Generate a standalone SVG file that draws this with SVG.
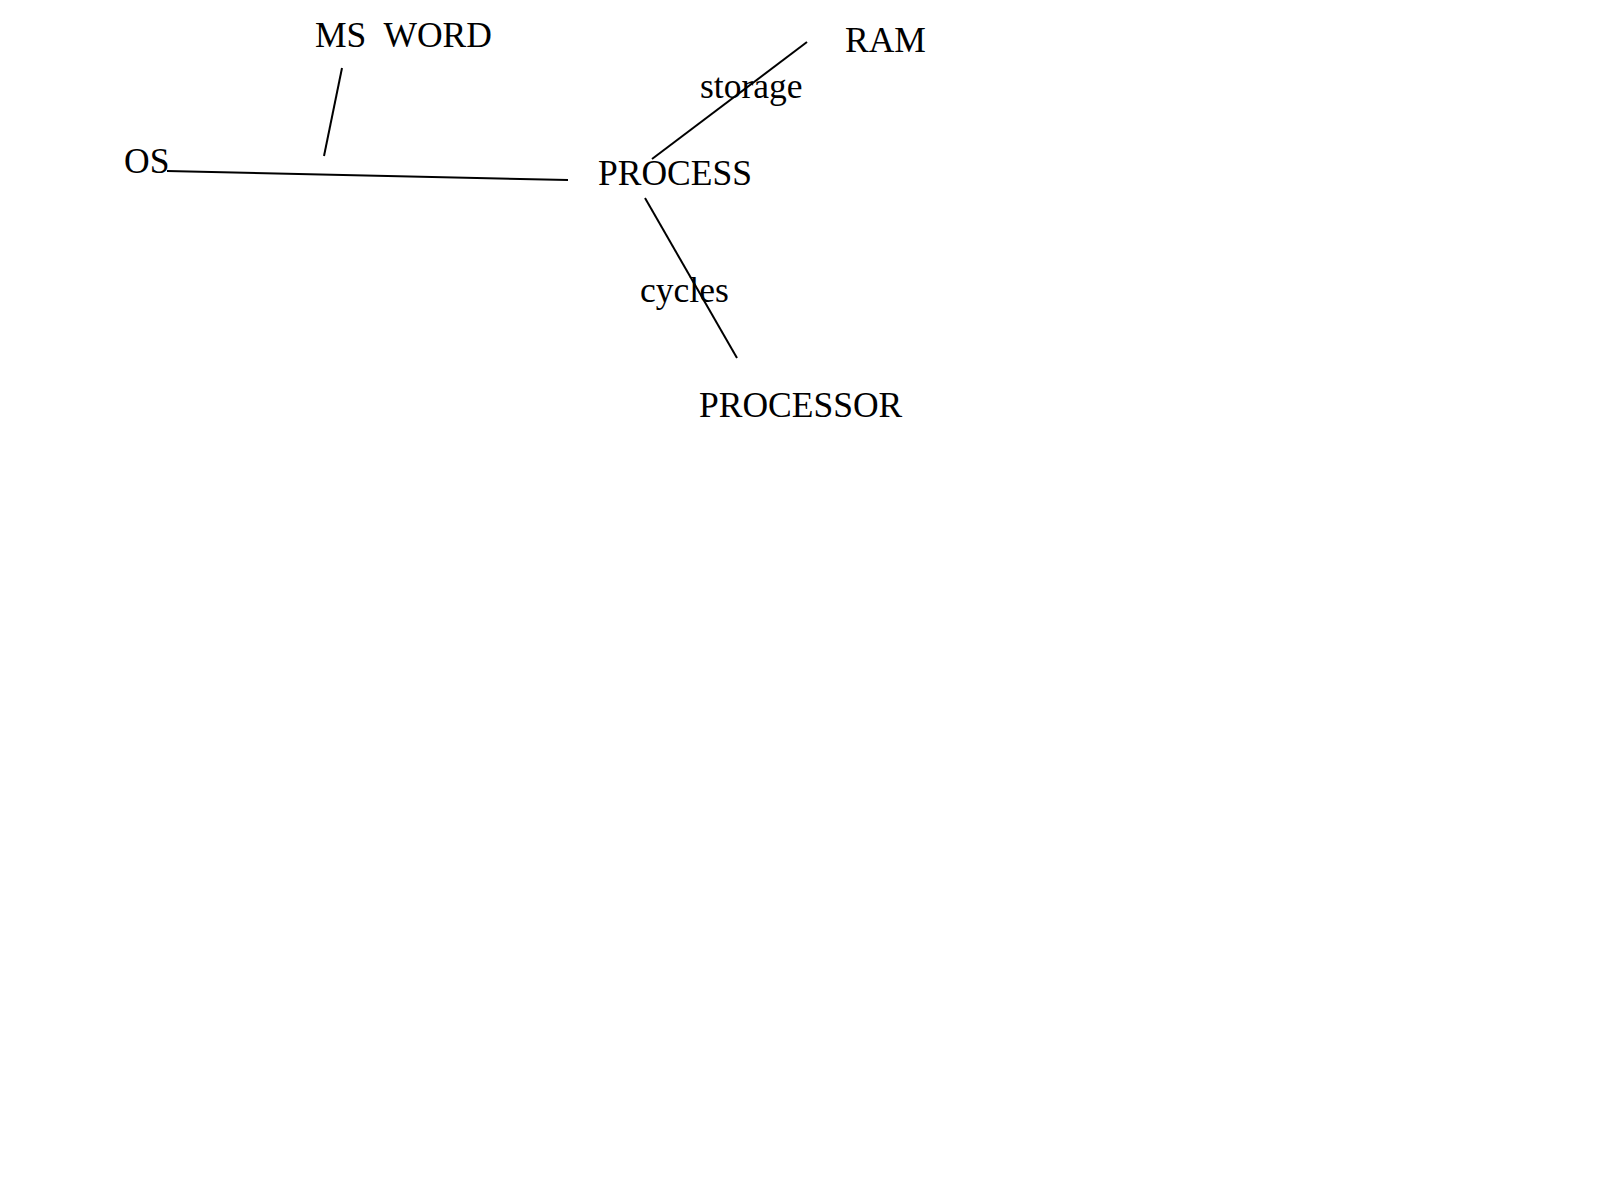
<svg xmlns="http://www.w3.org/2000/svg" width="1600" height="1200" viewBox="0 0 1600 1200">
<style>
text{font-family:"Liberation Serif","Times New Roman",serif;font-size:35.5px;fill:#000}
.c line{stroke:#000;stroke-width:2;stroke-linecap:butt}
</style>
<rect width="1600" height="1200" fill="#fff"/>
<g class="c" id="connectors">
<line x1="342" y1="68" x2="324" y2="156"/>
<line x1="167" y1="171" x2="568" y2="180"/>
<line x1="807" y1="42" x2="652" y2="159"/>
<line x1="645" y1="198" x2="737" y2="358"/>
</g>
<g id="node-msword"><text x="315" y="47" xml:space="preserve">MS  WORD</text></g>
<g id="node-os"><text x="124" y="173">OS</text></g>
<g id="node-ram"><text x="845" y="52">RAM</text></g>
<g id="node-process"><text x="598" y="185">PROCESS</text></g>
<g id="node-processor"><text x="699" y="417">PROCESSOR</text></g>
<g id="label-storage"><text x="700" y="98">storage</text></g>
<g id="label-cycles"><text x="640" y="302">cycles</text></g>
</svg>
